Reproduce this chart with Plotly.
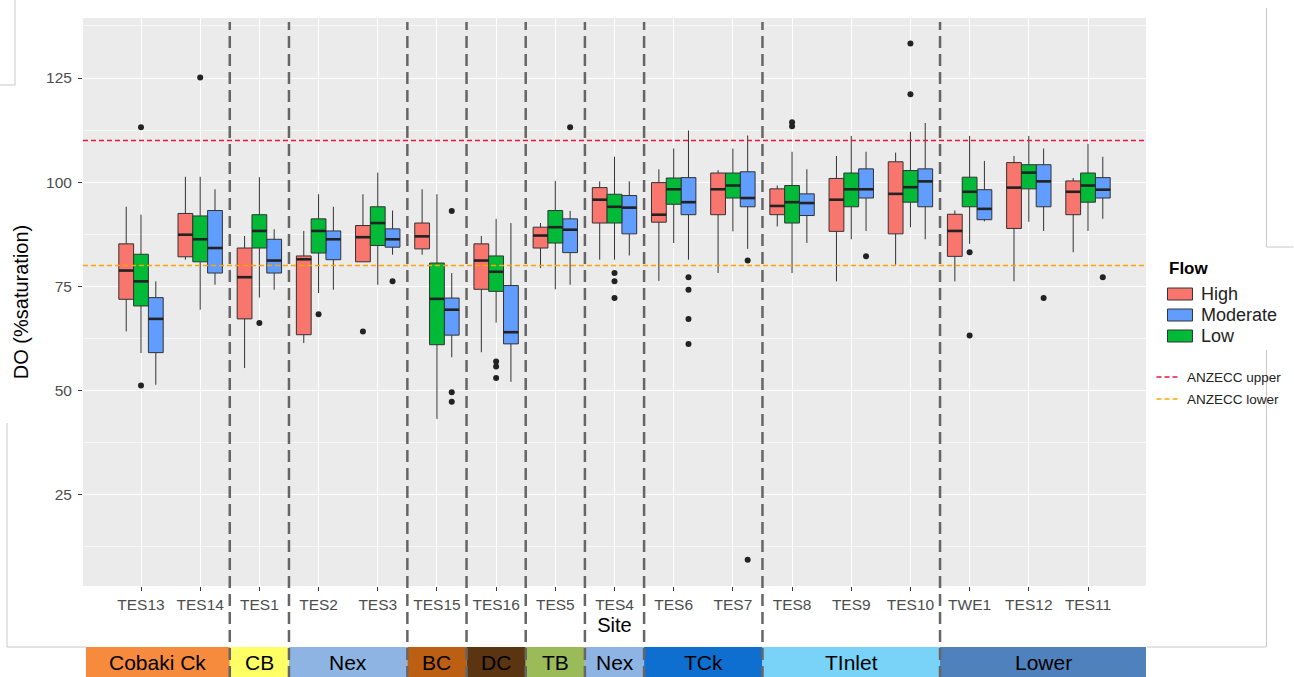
import plotly.graph_objects as go

# ---------------- data ----------------
sites = ["TES13", "TES14", "TES1", "TES2", "TES3", "TES15", "TES16", "TES5", "TES4",
         "TES6", "TES7", "TES8", "TES9", "TES10", "TWE1", "TES12", "TES11"]

# per flow: lower whisker, q1, median, q3, upper whisker (DO % saturation)
high_lo  = [64.2, 81.4, 55.4, 61.4, 80.9, 82.6, 59.2, 79.4, 81.4, 76.3, 78.2, 89.4, 76.2, 80.2, 76.2, 76.2, 83.2]
high_q1  = [71.9, 82.1, 67.2, 63.4, 80.9, 84.0, 74.3, 84.2, 90.2, 90.4, 92.2, 92.2, 88.2, 87.6, 82.2, 88.9, 92.2]
high_med = [78.8, 87.4, 77.2, 81.5, 86.8, 87.0, 81.2, 87.2, 95.8, 92.2, 98.3, 94.3, 95.8, 97.2, 88.3, 98.7, 97.7]
high_q3  = [85.2, 92.5, 84.2, 82.3, 89.6, 90.2, 85.2, 89.2, 98.7, 99.9, 102.2, 98.4, 100.9, 104.9, 92.3, 104.7, 100.3]
high_hi  = [94.1, 101.3, 87.1, 88.3, 97.1, 98.3, 87.1, 90.2, 100.2, 103.1, 102.9, 99.2, 106.3, 107.1, 93.2, 106.3, 101.0]

mod_lo  = [51.4, 75.4, 74.2, 74.2, 82.6, 58.0, 52.1, 75.4, 82.4, 81.4, 84.0, 85.4, 88.3, 86.3, 90.6, 88.3, 91.2]
mod_q1  = [59.1, 78.2, 78.2, 81.4, 84.4, 63.3, 61.2, 83.1, 87.6, 92.2, 94.1, 92.0, 96.2, 94.1, 91.0, 94.1, 96.2]
mod_med = [67.2, 84.2, 81.2, 86.3, 86.3, 69.4, 64.0, 88.6, 93.9, 95.2, 96.2, 95.0, 98.3, 100.2, 93.6, 100.2, 98.2]
mod_q3  = [72.3, 93.2, 86.3, 88.3, 88.8, 72.2, 75.2, 91.2, 96.8, 101.1, 102.5, 97.2, 103.2, 103.2, 98.2, 104.2, 101.1]
mod_hi  = [76.2, 98.3, 88.7, 94.1, 93.2, 78.2, 90.2, 93.1, 100.2, 112.4, 111.2, 103.1, 107.3, 114.2, 105.1, 108.1, 106.1]

low_lo  = [59.0, 69.4, 72.3, 73.4, 75.4, 43.2, 66.3, 74.3, 81.4, 85.4, 88.2, 78.2, 86.3, 89.2, 85.2, 90.5, 88.3]
low_q1  = [70.3, 80.9, 84.2, 83.0, 84.8, 61.0, 73.8, 85.4, 90.2, 94.7, 96.2, 90.2, 94.1, 95.2, 94.1, 98.4, 95.2]
low_med = [76.2, 86.3, 88.3, 88.3, 90.2, 72.0, 78.5, 89.2, 94.1, 98.3, 99.2, 95.2, 98.3, 98.8, 97.7, 102.3, 99.2]
low_q3  = [82.7, 91.9, 92.2, 91.2, 94.1, 80.6, 82.3, 93.2, 97.1, 101.0, 102.2, 99.2, 102.2, 102.8, 101.2, 104.2, 102.2]
low_hi  = [92.2, 101.3, 101.2, 97.1, 102.3, 97.1, 91.2, 100.3, 106.1, 108.1, 108.1, 107.3, 111.1, 112.1, 111.1, 111.1, 109.2]

# outliers: (site, value)
high_out_sites = ["TES3"]
high_out_vals  = [64.2]
mod_out_sites = ["TES3", "TES15", "TES15", "TES15", "TES5", "TES6", "TES6", "TES6", "TES6",
                 "TES7", "TES7", "TES9", "TES12", "TES11"]
mod_out_vals  = [76.2, 93.1, 49.6, 47.3, 113.2, 77.2, 74.2, 67.2, 61.2,
                 81.2, 9.4, 82.2, 72.2, 77.2]
low_out_sites = ["TES13", "TES13", "TES14", "TES1", "TES2", "TES16", "TES16", "TES16",
                 "TES4", "TES4", "TES4", "TES8", "TES8", "TES10", "TES10", "TWE1", "TWE1"]
low_out_vals  = [113.2, 51.2, 125.1, 66.2, 68.3, 57.0, 55.8, 53.0,
                 78.2, 76.2, 72.2, 114.4, 113.4, 133.3, 121.1, 83.2, 63.2]

y_ticks = [25, 50, 75, 100, 125]
anzecc_upper = 110
anzecc_lower = 80

regions = ["Cobaki Ck", "CB", "Nex", "BC", "DC", "TB", "Nex", "TCk", "TInlet", "Lower"]
region_site_counts = [2, 1, 2, 1, 1, 1, 1, 2, 3, 3]
region_colors = ["#F68B3D", "#FFFF66", "#8DB4E2", "#BD5F12", "#5B3411", "#9BBB59",
                 "#8DB4E2", "#0F6FD1", "#79D2F7", "#4F81BD"]

# ---------------- styling / layout constants ----------------
W, H = 1294, 677
L, R, T, B = 83, 1146.5, 18, 586          # plot panel in pixels
XR = [-0.98, 16.98]
YR = [3.1, 139.4]
FONT = "Liberation Sans, Arial, sans-serif"
C_HIGH, C_MOD, C_LOW = "#F8766D", "#619CFF", "#00BA38"
EDGE = "#333333"
DW = 0.25   # dodge width per box


def px2x(px):
    return (px - L) / (R - L)


def py2y(py):
    return (B - py) / (B - T)


idx = {s: i for i, s in enumerate(sites)}
fig = go.Figure()

flows = [
    ("High", C_HIGH, -DW, high_lo, high_q1, high_med, high_q3, high_hi, high_out_sites, high_out_vals),
    ("Moderate", C_MOD, DW, mod_lo, mod_q1, mod_med, mod_q3, mod_hi, mod_out_sites, mod_out_vals),
    ("Low", C_LOW, 0.0, low_lo, low_q1, low_med, low_q3, low_hi, low_out_sites, low_out_vals),
]

for name, col, off, lo, q1, med, q3, hi, osites, ovals in flows:
    xs = [i + off for i in range(len(sites))]
    fig.add_trace(go.Box(
        name=name, x=xs, q1=q1, median=med, q3=q3, lowerfence=lo, upperfence=hi,
        width=DW, fillcolor=col, line=dict(color=EDGE, width=1), whiskerwidth=0,
        boxpoints=False, showlegend=False, hoverinfo="skip"))
    # thick median bars
    mx, my = [], []
    for x, m in zip(xs, med):
        mx += [x - DW / 2, x + DW / 2, None]
        my += [m, m, None]
    fig.add_trace(go.Scatter(x=mx, y=my, mode="lines", line=dict(color="#222222", width=2.6),
                             showlegend=False, hoverinfo="skip"))
    # outliers
    fig.add_trace(go.Scatter(x=[idx[s] + off for s in osites], y=ovals, mode="markers",
                             marker=dict(color="#222222", size=6), showlegend=False,
                             hoverinfo="skip"))

shapes = []
annotations = []

# ANZECC guideline lines
for val, col in [(anzecc_upper, "#F0143C"), (anzecc_lower, "#FFA500")]:
    shapes.append(dict(type="line", xref="paper", yref="y", x0=0, x1=1, y0=val, y1=val,
                       line=dict(color=col, width=1.5, dash="5px,3px"), layer="above"))

# region bars and separators
edges = [-0.5]
for c in region_site_counts:
    edges.append(edges[-1] + c)
bar_top, bar_bot = py2y(647), py2y(678)
for k, (reg, col) in enumerate(zip(regions, region_colors)):
    x0 = edges[k] if k > 0 else XR[0] + 0.05
    x1 = edges[k + 1] if k < len(regions) - 1 else XR[1] + 0.02
    shapes.append(dict(type="rect", xref="x", yref="paper", x0=x0, x1=x1, y0=bar_bot, y1=bar_top,
                       fillcolor=col, line=dict(width=0), layer="above"))
    annotations.append(dict(x=(x0 + x1) / 2, y=py2y(662), xref="x", yref="paper", text=reg,
                            showarrow=False, font=dict(family=FONT, size=21, color="#000000"),
                            xanchor="center", yanchor="middle"))
for e in edges[1:-1]:
    shapes.append(dict(type="line", xref="x", yref="paper", x0=e, x1=e, y0=py2y(678), y1=py2y(22),
                       line=dict(color="#666666", width=2.5, dash="12px,6px"), layer="above"))

# manual legend
annotations.append(dict(x=px2x(1168), y=py2y(268), xref="paper", yref="paper", text="<b>Flow</b>",
                        showarrow=False, xanchor="left", yanchor="middle",
                        font=dict(family=FONT, size=17, color="#000000")))
for lab, col, yc in [("High", C_HIGH, 294), ("Moderate", C_MOD, 315), ("Low", C_LOW, 336)]:
    shapes.append(dict(type="rect", xref="paper", yref="paper", x0=px2x(1168), x1=px2x(1193),
                       y0=py2y(yc + 6), y1=py2y(yc - 6), fillcolor=col,
                       line=dict(color=EDGE, width=1)))
    annotations.append(dict(x=px2x(1200), y=py2y(yc), xref="paper", yref="paper", text=lab,
                            showarrow=False, xanchor="left", yanchor="middle",
                            font=dict(family=FONT, size=18, color="#222222")))
for lab, col, yc in [("ANZECC upper", "#F0143C", 377), ("ANZECC lower", "#FFA500", 399)]:
    shapes.append(dict(type="line", xref="paper", yref="paper", x0=px2x(1157), x1=px2x(1179),
                       y0=py2y(yc), y1=py2y(yc), line=dict(color=col, width=1.5, dash="5px,3px")))
    annotations.append(dict(x=px2x(1186), y=py2y(yc), xref="paper", yref="paper", text=lab,
                            showarrow=False, xanchor="left", yanchor="middle",
                            font=dict(family=FONT, size=13.5, color="#222222")))

# faint composite frame lines
frame = [((15, 0), (15, 85)), ((0, 85), (15, 85)), ((7, 423), (7, 647)), ((7, 647), (86, 647)),
         ((1267, 8), (1267, 247)), ((1267, 247), (1294, 247)), ((1267, 350), (1267, 647)),
         ((1147, 647), (1267, 647))]
for (ax, ay), (bx, by) in frame:
    shapes.append(dict(type="line", xref="paper", yref="paper", x0=px2x(ax), x1=px2x(bx),
                       y0=py2y(ay), y1=py2y(by), line=dict(color="#C8C8C8", width=1)))

fig.update_layout(
    width=W, height=H, autosize=False,
    margin=dict(l=L, r=W - R, t=T, b=H - B, pad=0, autoexpand=False),
    paper_bgcolor="white", plot_bgcolor="#EBEBEB",
    showlegend=False, boxmode="overlay",
    shapes=shapes, annotations=annotations,
    xaxis=dict(range=XR, tickmode="array", tickvals=list(range(len(sites))), ticktext=sites,
               automargin=False,
               showgrid=True, gridcolor="white", gridwidth=1.1, zeroline=False,
               ticks="outside", ticklen=4, tickcolor="#333333",
               tickfont=dict(family=FONT, size=15.5, color="#4D4D4D"),
               title=dict(text="Site", font=dict(family=FONT, size=20, color="#000000"), standoff=6)),
    yaxis=dict(range=YR, tickmode="array", tickvals=y_ticks, automargin=False,
               showgrid=True, gridcolor="white", gridwidth=1.1, zeroline=False,
               minor=dict(tickvals=[v - 12.5 for v in y_ticks] + [y_ticks[-1] + 12.5],
                          showgrid=True, gridcolor="#F7F7F7", gridwidth=0.6),
               ticks="outside", ticklen=4, tickcolor="#333333", ticklabelstandoff=3,
               tickfont=dict(family=FONT, size=15.5, color="#4D4D4D"),
               title=dict(text="DO (%saturation)", font=dict(family=FONT, size=20, color="#000000"),
                          standoff=12)),
)

fig.write_html("out.html", config={"displayModeBar": False},
               post_script="document.body.style.margin='0';document.body.style.overflow='hidden';")
